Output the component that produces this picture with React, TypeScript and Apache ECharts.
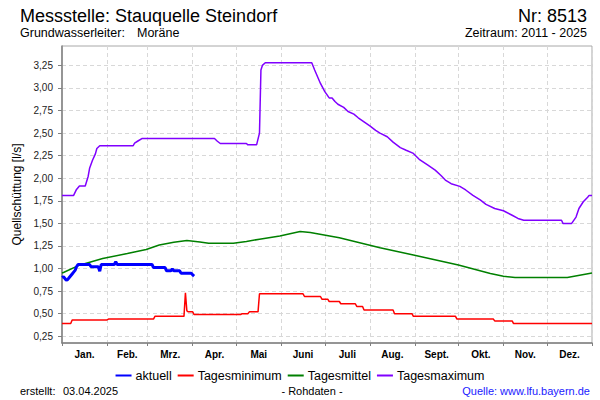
import React, { useEffect, useRef } from "react";
import * as echarts from "echarts";

const FONT = '"Liberation Sans", Arial, sans-serif';

const monthNames = ["Jan.", "Feb.", "Mrz.", "Apr.", "Mai", "Juni", "Juli", "Aug.", "Sept.", "Okt.", "Nov.", "Dez."];
const monthStarts = [0, 31, 59, 90, 120, 151, 181, 212, 243, 273, 304, 334, 365];
const yTicks = [0.25, 0.5, 0.75, 1.0, 1.25, 1.5, 1.75, 2.0, 2.25, 2.5, 2.75, 3.0, 3.25];

// aktuell: daily values from 1 Jan (day 0) to 2 Apr 2025
const aktuell = [
  0.90, 0.91, 0.89, 0.87, 0.88, 0.90, 0.92, 0.94, 0.96, 0.98,
  1.02,
  1.045, 1.045, 1.045, 1.045, 1.045, 1.045, 1.045, 1.045, 1.045,
  1.02, 1.02, 1.02, 1.02, 1.02, 1.02,
  0.97,
  1.045, 1.045, 1.045, 1.045, 1.045, 1.045, 1.045, 1.045, 1.045, 1.045,
  1.075,
  1.045, 1.045, 1.045, 1.045, 1.045, 1.045, 1.045, 1.045, 1.045, 1.045,
  1.045, 1.045, 1.045, 1.045, 1.045, 1.045, 1.045, 1.045, 1.045, 1.045,
  1.045, 1.045, 1.045, 1.045, 1.045,
  1.01, 1.01, 1.01, 1.01, 1.01, 1.01, 1.01, 1.01, 1.01,
  0.975, 0.975, 0.975, 0.975,
  0.995,
  0.975, 0.975, 0.975, 0.975, 0.975,
  0.948, 0.948, 0.948, 0.948, 0.948, 0.948, 0.948, 0.948,
  0.93, 0.915,
];

// [day of year, value]
const tagesminimum: [number, number][] = [
  [0, 0.39], [6, 0.39], [7, 0.43], [31, 0.43], [32, 0.44], [63, 0.44], [64, 0.47], [84, 0.47],
  [85, 0.73], [86, 0.53], [87, 0.52], [90, 0.52], [91, 0.49], [123, 0.49], [124, 0.5], [128, 0.5],
  [129, 0.52], [135, 0.52], [136, 0.72], [166, 0.72], [167, 0.69], [178, 0.69], [179, 0.66],
  [183, 0.66], [184, 0.635], [191, 0.635], [192, 0.61], [202, 0.61], [203, 0.58], [207, 0.58],
  [208, 0.54], [228, 0.54], [229, 0.5], [241, 0.5], [242, 0.47], [271, 0.47], [272, 0.44],
  [297, 0.44], [298, 0.42], [310, 0.42], [311, 0.39], [365, 0.39],
];

const tagesmittel: [number, number][] = [
  [0, 0.95], [1, 0.956], [12, 1.037], [28, 1.11], [45, 1.166], [58, 1.21], [67, 1.26], [77, 1.29],
  [86, 1.31], [95, 1.295], [101, 1.28], [118, 1.28], [127, 1.3], [136, 1.325], [150, 1.36],
  [164, 1.41], [171, 1.4], [191, 1.34], [219, 1.23], [242, 1.15], [273, 1.04], [295, 0.945],
  [304, 0.915], [312, 0.9], [348, 0.9], [365, 0.95],
];

const tagesmaximum: [number, number][] = [
  [0, 1.81], [8, 1.81], [10, 1.876], [12, 1.915], [16, 1.915], [18, 2.02], [19, 2.11], [21, 2.2],
  [23, 2.27], [24, 2.33], [26, 2.36], [49, 2.36], [50, 2.39], [52, 2.41], [55, 2.44], [105, 2.44],
  [107, 2.41], [109, 2.385], [127, 2.385], [128, 2.37], [134, 2.37], [136, 2.5], [137, 3.2],
  [138, 3.25], [140, 3.28], [172, 3.28], [174, 3.2], [178, 3.05], [181, 2.96], [184, 2.89],
  [186, 2.89], [188, 2.85], [190, 2.82], [194, 2.785], [197, 2.74], [201, 2.71], [204, 2.67],
  [208, 2.625], [212, 2.58], [216, 2.53], [219, 2.5], [224, 2.46], [228, 2.4], [233, 2.34],
  [237, 2.31], [242, 2.275], [246, 2.21], [252, 2.145], [257, 2.09], [261, 2.03], [264, 1.98],
  [268, 1.94], [274, 1.91], [278, 1.87], [283, 1.81], [288, 1.76], [292, 1.71], [298, 1.665],
  [304, 1.64], [310, 1.59], [314, 1.555], [318, 1.535], [344, 1.535], [345, 1.5], [351, 1.5],
  [354, 1.57], [356, 1.665], [359, 1.74], [362, 1.79], [363, 1.81], [365, 1.81],
];

export default function App() {
  const ref = useRef<HTMLDivElement>(null);

  useEffect(() => {
    if (!ref.current) return;
    const chart = echarts.init(ref.current, null, { renderer: "svg" });
    const monthCenters = monthNames.map((_, i) => (monthStarts[i] + monthStarts[i + 1]) / 2);

    const txt = (text: string, x: number, y: number, size: number, align: string, fill = "#000") => ({
      type: "text",
      x,
      y,
      silent: true,
      style: {
        text,
        fill,
        font: `${size}px ${FONT}`,
        align,
        textAlign: align,
        verticalAlign: "middle",
        textVerticalAlign: "middle",
      },
    });

    chart.setOption({
      animation: false,
      backgroundColor: "#fff",
      grid: {
        left: 62,
        right: 8,
        top: 46,
        bottom: 57,
        show: true,
        borderColor: "#a8a8a8",
        borderWidth: 1,
        backgroundColor: "#fff",
      },
      legend: {
        top: 364,
        left: "center",
        icon: "rect",
        itemWidth: 16,
        itemHeight: 2,
        itemGap: 6,
        textStyle: { fontFamily: FONT, fontSize: 12.5, color: "#000", padding: [0, 0, 0, -1] },
        data: ["aktuell", "Tagesminimum", "Tagesmittel", "Tagesmaximum"],
      },
      xAxis: {
        type: "value",
        min: 0,
        max: 365,
        axisLine: { show: true, lineStyle: { color: "#808080", width: 1.5 } },
        axisTick: { show: true, length: 3, customValues: monthStarts, lineStyle: { color: "#808080" } },
        axisLabel: {
          customValues: monthCenters,
          formatter: (v: number) => {
            const i = monthCenters.indexOf(v);
            return i >= 0 ? monthNames[i] : "";
          },
          fontFamily: FONT,
          fontSize: 10,
          fontWeight: "bold",
          color: "#000",
          margin: 6,
        },
        splitLine: { show: true, lineStyle: { color: "#d8d8d8", type: [4, 3], width: 1 } },
      },
      yAxis: {
        type: "value",
        min: 0.175,
        max: 3.465,
        name: "Quellschüttung [l/s]",
        nameLocation: "middle",
        nameGap: 31,
        nameTextStyle: { fontFamily: FONT, fontSize: 12, color: "#000" },
        axisLine: { show: true, lineStyle: { color: "#808080", width: 1.5 } },
        axisTick: { show: true, length: 4, customValues: yTicks, lineStyle: { color: "#808080" } },
        axisLabel: {
          customValues: yTicks,
          formatter: (v: number) => v.toFixed(2).replace(".", ","),
          fontFamily: FONT,
          fontSize: 10,
          color: "#222",
          margin: 9,
        },
        splitLine: { show: true, lineStyle: { color: "#d8d8d8", type: [4, 3], width: 1 } },
      },
      series: [
        {
          name: "aktuell",
          type: "line",
          data: aktuell.map((v, i) => [i, v]),
          showSymbol: false,
          color: "#0000ff",
          lineStyle: { width: 3, color: "#0000ff" },
          z: 5,
        },
        {
          name: "Tagesminimum",
          type: "line",
          data: tagesminimum,
          showSymbol: false,
          color: "#ff0000",
          lineStyle: { width: 1.5, color: "#ff0000" },
          z: 3,
        },
        {
          name: "Tagesmittel",
          type: "line",
          data: tagesmittel,
          showSymbol: false,
          color: "#008000",
          lineStyle: { width: 1.5, color: "#008000" },
          z: 3,
        },
        {
          name: "Tagesmaximum",
          type: "line",
          data: tagesmaximum,
          showSymbol: false,
          color: "#8000ff",
          lineStyle: { width: 1.5, color: "#8000ff" },
          z: 3,
        },
      ],
      graphic: [
        txt("Messstelle: Stauquelle Steindorf", 20, 16, 18, "left"),
        txt("Nr: 8513", 587, 16, 18, "right"),
        txt("Grundwasserleiter:", 20, 33, 12.5, "left"),
        txt("Moräne", 137, 33, 12.5, "left"),
        txt("Zeitraum: 2011 - 2025", 587, 33, 12.5, "right"),
        txt("erstellt:", 20, 391, 11, "left"),
        txt("03.04.2025", 63, 391, 11, "left"),
        txt("- Rohdaten -", 312, 391, 11, "center"),
        txt("Quelle: www.lfu.bayern.de", 590, 391, 11, "right", "#1a1aff"),
      ],
    });

    return () => chart.dispose();
  }, []);

  return <div ref={ref} style={{ width: 600, height: 400, position: "fixed", left: 0, top: 0 }} />;
}
